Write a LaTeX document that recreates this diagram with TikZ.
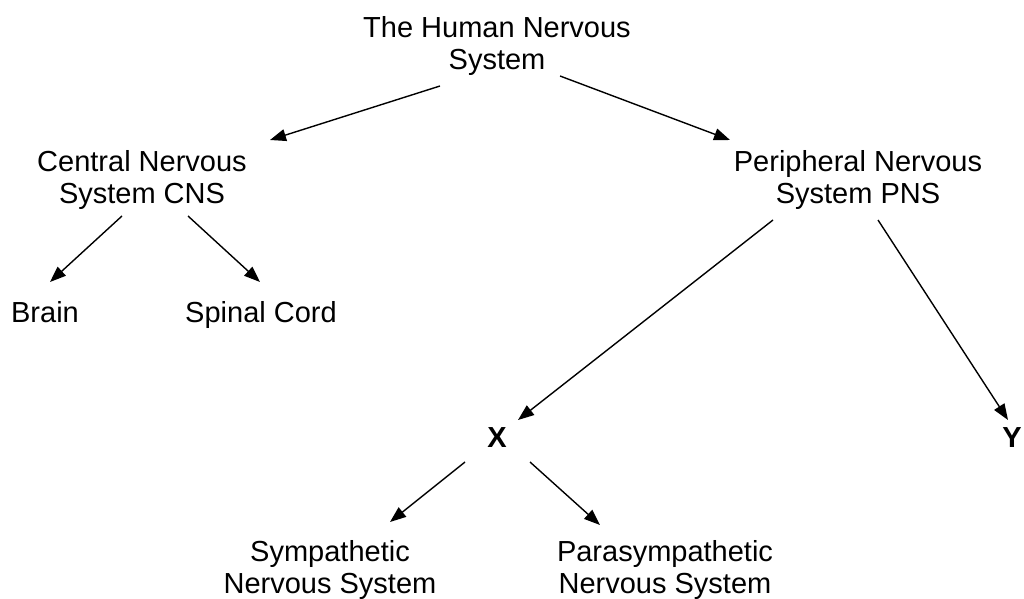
\documentclass[tikz,border=0pt]{standalone}
\usepackage{fontspec}
\setmainfont{Liberation Sans}
\usetikzlibrary{arrows.meta}
\usetikzlibrary{calc}

\tikzset{
	part/.style={align=center,inner sep=0pt,font=\fontsize{29}{32}\selectfont},
	unknown/.style={inner sep=0pt,font=\fontsize{29}{32}\selectfont\bfseries},
	branch/.style={line width=1.4pt,-{Triangle[length=16pt,width=12pt]}}
}

\begin{document}
\begin{tikzpicture}[x=1pt,y=1pt]
		\useasboundingbox (0,0) rectangle (1024,598);
		\node[part] (nervous) at (497,552) {The Human Nervous\\System};
		\node[part] (cns) at (142,418) {Central Nervous\\System CNS};
		\node[part] (pns) at (858,418) {Peripheral Nervous\\System PNS};
		\node[part,anchor=base] (brain) at (45,276) {Brain};
		\node[part,anchor=base] (spinal) at (261,276) {Spinal Cord};
		\node[unknown,anchor=base] (x) at (497,151) {X};
		\node[unknown,anchor=base] (y) at (1012,151) {Y};
		\node[part] (symp) at (330,28) {Sympathetic\\Nervous System};
		\node[part] (para) at (665,28) {Parasympathetic\\Nervous System};
		\draw[branch] ([shift={(-57,-40)}]nervous.center) -- ([shift={(128,40)}]cns.center);
		\draw[branch] ([shift={(63,-30)}]nervous.center) -- ([shift={(-128,40)}]pns.center);
		\draw[branch] ([shift={(-20,-36)}]cns.center) -- ([shift={(5,40)}]brain.base);
		\draw[branch] ([shift={(46,-36)}]cns.center) -- ([shift={(-1,40)}]spinal.base);
		\draw[branch] ([shift={(-85,-40)}]pns.center) -- ([shift={(21,27)}]x.base);
		\draw[branch] ([shift={(20,-40)}]pns.center) -- ([shift={(-4,27)}]y.base);
		\draw[branch] ([shift={(-32,-15)}]x.base) -- ([shift={(60,48)}]symp.center);
		\draw[branch] ([shift={(33,-15)}]x.base) -- ([shift={(-65,45)}]para.center);
\end{tikzpicture}
\end{document}
